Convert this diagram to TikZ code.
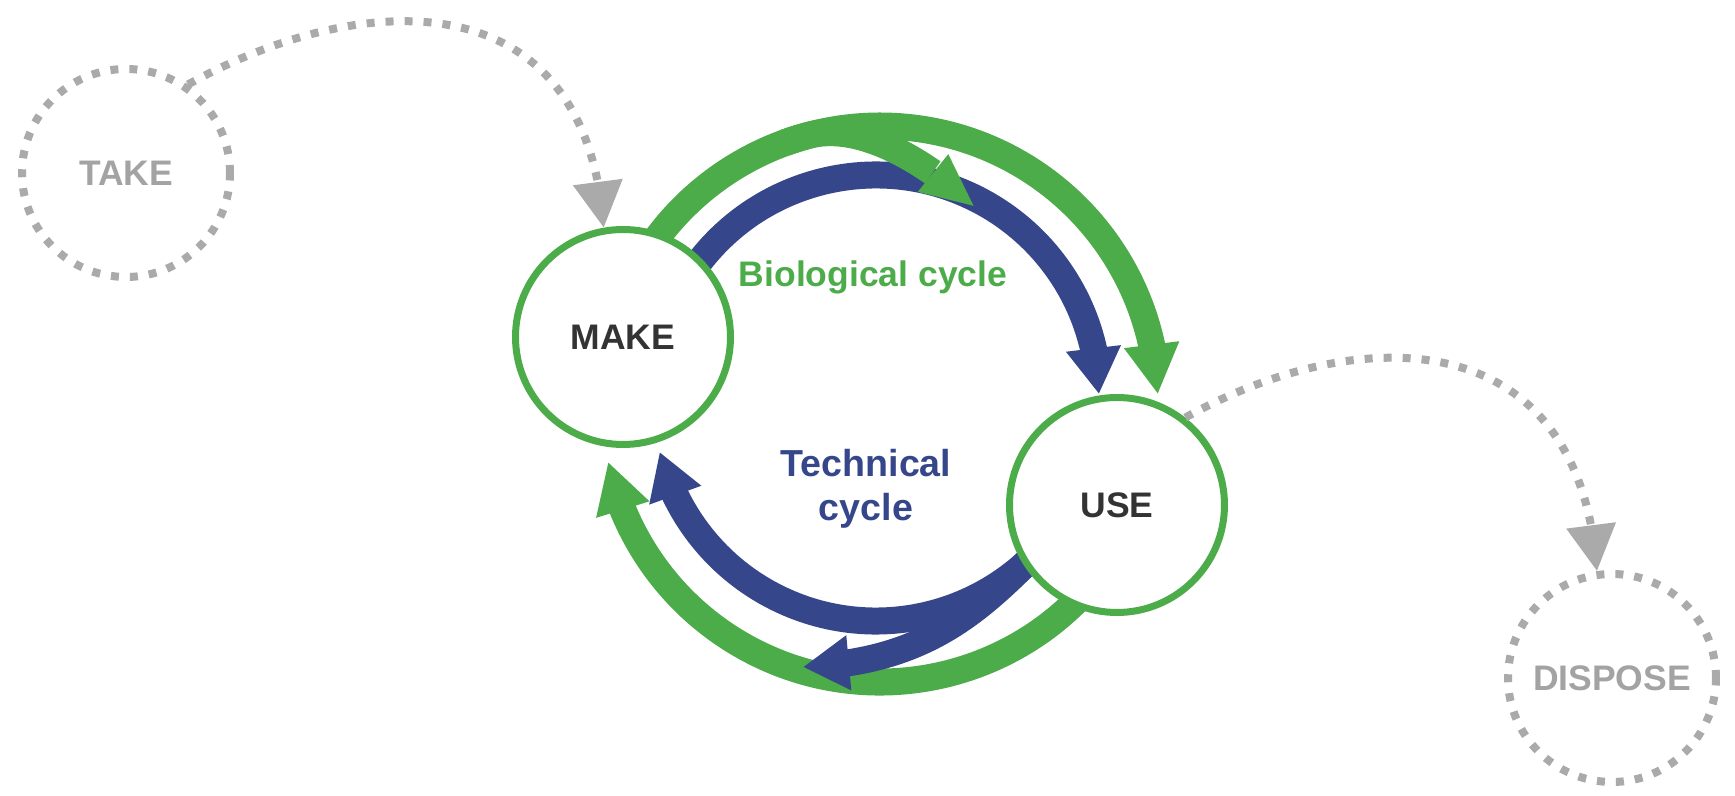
\documentclass[tikz,border=0pt]{standalone}
\usepackage{fontspec}
\setsansfont{Liberation Sans}
\usetikzlibrary{arrows.meta,bending}

\definecolor{cyclegreen}{RGB}{77,172,74}
\definecolor{cycleblue}{RGB}{54,70,138}
\definecolor{ghostgray}{RGB}{170,170,170}
\definecolor{labelgray}{RGB}{163,163,163}
\definecolor{darktext}{RGB}{51,51,51}

\begin{document}
\begin{tikzpicture}[x=0.1mm,y=0.1mm,
  font=\sffamily\bfseries\fontsize{10.1pt}{12.5pt}\selectfont,
  main node/.style={circle,draw=cyclegreen,line width=0.7mm,fill=white,
    minimum size=21.5mm,inner sep=0pt,text=darktext},
  ghost node/.style={circle,draw=ghostgray,line width=0.8mm,
    dash pattern=on 0.8mm off 1.1mm,minimum size=20.8mm,inner sep=0pt,text=labelgray},
  ghost edge/.style={draw=ghostgray,line width=0.8mm,dash pattern=on 0.8mm off 1.1mm,
    -{Triangle[length=4.6mm,width=4.8mm,flex]}},
  bio band/.style={draw=cyclegreen,line width=2.7mm,-{Triangle[length=5mm,width=5.2mm,flex]}},
  tech band/.style={draw=cycleblue,line width=2.7mm,-{Triangle[length=4.6mm,width=5.2mm,flex]}}]

  \useasboundingbox (0,0) rectangle (1735,796);

  \coordinate (bio) at (880,392);
  \coordinate (tech) at (876,398);

  % upper half: make -> use
  \draw[tech band] ([shift={(150:223)}]tech) arc[start angle=150,end angle=1,radius=223];
  \draw[bio band,-{Triangle[length=5.4mm,width=4.4mm,flex]}] ([shift={(150:278)}]bio)
    arc[start angle=150,end angle=105,radius=278] .. controls +(15:60) and +(136:50) .. (975,589);
  \draw[bio band] ([shift={(110:278)}]bio) arc[start angle=110,end angle=2,radius=278];

  % lower half: use -> make
  \draw[bio band] ([shift={(-30:278)}]bio) arc[start angle=-30,end angle=-168,radius=278];
  \draw[tech band] ([shift={(-28:223)}]tech) arc[start angle=-28,end angle=-166,radius=223];
  \draw[tech band] ([shift={(-45:223)}]tech) .. controls +(-135:80) and +(2:120) .. (803,129);

  \node[text=cyclegreen] (biolabel) at (873,519) {Biological cycle};
  \node[text=cycleblue,align=center,font=\sffamily\bfseries\fontsize{10.7pt}{12.5pt}\selectfont]
    (techlabel) at (866,307) {Technical\\cycle};

  \node[main node] (make) at (623,459) {MAKE};
  \node[main node] (use) at (1117,291) {USE};
  \node[ghost node] (take) at (126,623) {TAKE};
  \node[ghost node] (dispose) at (1612,118) {DISPOSE};

  \draw[ghost edge] (take.55) .. controls +(29:200) and +(94:250) .. (make.100);
  \draw[ghost edge] (use.52) .. controls +(29:200) and +(94:250) .. (dispose.98);
\end{tikzpicture}
\end{document}
